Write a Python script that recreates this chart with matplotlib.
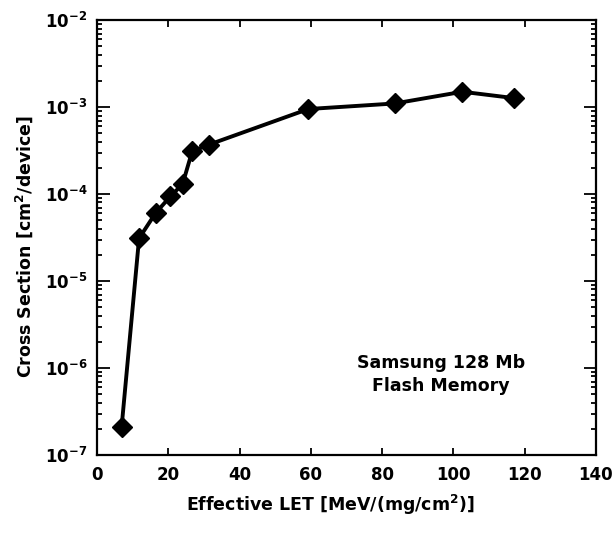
import matplotlib
matplotlib.use('Agg')
import math
import matplotlib.pyplot as plt
from matplotlib.ticker import FixedLocator, FuncFormatter, LogLocator, NullFormatter

''' Dados lidos do grafico '''
let_eff = [6.9, 11.8, 16.5, 20.6, 24.0, 26.7, 31.4, 59.3, 83.5, 102.5, 116.9]
cross_section = [2.1e-7, 3.1e-5, 6.1e-5, 9.4e-5, 1.3e-4, 3.1e-4, 3.7e-4, 9.5e-4, 1.1e-3, 1.5e-3, 1.27e-3]
x_ticks = [0, 20, 40, 60, 80, 100, 120, 140]
y_ticks = [1e-7, 1e-6, 1e-5, 1e-4, 1e-3, 1e-2]

plt.rcParams['font.family'] = ['DejaVu Sans']
plt.rcParams['font.weight'] = 'bold'
plt.rcParams['mathtext.fontset'] = 'custom'
plt.rcParams['mathtext.rm'] = 'DejaVu Sans:bold'
plt.rcParams['mathtext.bf'] = 'DejaVu Sans:bold'
plt.rcParams['mathtext.default'] = 'bf'

fig = plt.figure(figsize=(6.16, 5.33), dpi=100)
ax = fig.add_axes([0.1575, 0.1463, 0.81, 0.816])

ax.plot(let_eff, cross_section, color='black', linewidth=2.8, marker='D', markersize=10,
        markerfacecolor='black', markeredgecolor='black')

ax.set_yscale('log')
ax.set_xlim(0, 140)
ax.set_ylim(1e-7, 1e-2)

ax.xaxis.set_major_locator(FixedLocator(x_ticks))
ax.yaxis.set_major_locator(FixedLocator(y_ticks))
ax.yaxis.set_minor_locator(LogLocator(base=10, subs=range(2, 10)))
ax.yaxis.set_minor_formatter(NullFormatter())

''' Rotulos do eixo y em notacao 10^n '''
def fmt_y(v, pos):
    return r'$\mathbf{10^{-%d}}$' % abs(round(math.log10(v)))

ax.yaxis.set_major_formatter(FuncFormatter(fmt_y))

ax.tick_params(which='both', direction='in', top=True, right=True, width=1.3)
ax.tick_params(axis='x', which='major', length=5, labelsize=12, pad=8)
ax.tick_params(axis='y', which='major', length=9, labelsize=12, pad=7)
ax.tick_params(which='minor', length=3.5)
for s in ax.spines.values():
    s.set_linewidth(1.6)

for lab in ax.get_xticklabels() + ax.get_yticklabels():
    lab.set_fontweight('bold')

ax.set_ylabel(r'Cross Section [cm$^{2}$/device]', fontsize=12.5, fontweight='bold')
ax.yaxis.set_label_coords(-0.125, 0.48)
ax.set_xlabel(r'Effective LET [MeV/(mg/cm$^{2}$)]', fontsize=12.5, fontweight='bold')
ax.xaxis.set_label_coords(0.467, -0.088)

ax.text(0.69, 0.186, 'Samsung 128 Mb\nFlash Memory', transform=ax.transAxes,
        ha='center', va='center', fontsize=12.5, fontweight='bold', linespacing=1.35)

fig.savefig('out.png', dpi=100)
